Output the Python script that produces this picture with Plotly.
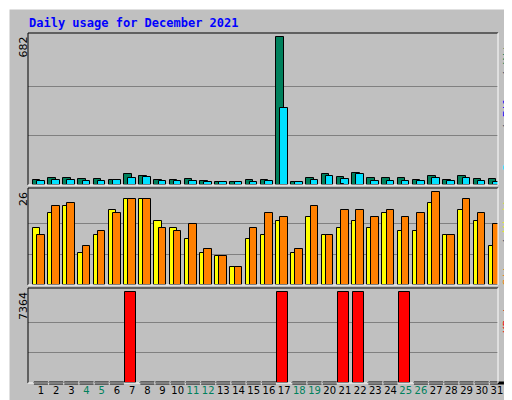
import plotly.graph_objects as go

days = list(range(1, 32))
weekend = [4, 5, 11, 12, 18, 19, 25, 26]

hits = [25, 34, 34, 29, 29, 25, 49, 43, 25, 25, 29, 20, 12, 12, 25, 25,
        682, 15, 34, 49, 39, 54, 34, 34, 34, 25, 43, 25, 43, 29, 29]
files = [20, 23, 23, 20, 20, 25, 34, 39, 20, 20, 20, 15, 12, 12, 15, 20,
         353, 15, 25, 43, 29, 49, 20, 20, 20, 20, 34, 20, 34, 20, 15]
pages = [None] * 20 + [5] + [None] * 10
sites = [16, 20, 22, 9, 14, 21, 24, 24, 18, 16, 13, 9, 8, 5, 13, 14,
         18, 9, 19, 14, 16, 18, 16, 20, 15, 15, 23, 14, 21, 18, 11]
visits = [14, 22, 23, 11, 15, 20, 24, 24, 16, 15, 17, 10, 8, 5, 16, 20,
          19, 10, 22, 14, 21, 21, 19, 21, 19, 20, 26, 14, 24, 20, 17]
kbytes = [0] * 31
for d in [7, 17, 21, 22, 25]:
    kbytes[d - 1] = 7364

W, H = 512, 400
X0, X1 = 20 / W, 490 / W


def yd(top, bottom):
    return [1 - bottom / H, 1 - top / H]


fig = go.Figure()
edge = dict(color="black", width=1)

fig.add_bar(x=days, y=hits, marker=dict(color="#00805c", line=edge),
            offset=-0.53, width=0.5, yaxis="y")
fig.add_bar(x=days, y=files, marker=dict(color="#00e0ff", line=edge),
            offset=-0.26, width=0.5, yaxis="y")
fig.add_bar(x=days, y=pages, marker=dict(color="#0000ff", line=edge),
            offset=-0.26, width=0.2, yaxis="y")
fig.add_bar(x=days, y=sites, marker=dict(color="#ffff00", line=edge),
            offset=-0.53, width=0.5, yaxis="y2", xaxis="x2")
fig.add_bar(x=days, y=visits, marker=dict(color="#ff8000", line=edge),
            offset=-0.26, width=0.5, yaxis="y2", xaxis="x2")
fig.add_bar(x=days, y=kbytes, marker=dict(color="#ff0000", line=edge),
            offset=-0.45, width=0.72, yaxis="y3", xaxis="x3")
# zero-kbyte days show as a flat dash
zero_days = [d for d, k in zip(days, kbytes) if k == 0]
fig.add_scatter(x=zero_days, y=[0] * len(zero_days), mode="markers",
                marker=dict(symbol="line-ew", size=10,
                            line=dict(color="black", width=3)),
                yaxis="y3", xaxis="x3", cliponaxis=False)

xr = [0.15, 31.07]
common_x = dict(range=xr, domain=[X0, X1], showgrid=False, zeroline=False,
                showline=False, fixedrange=True, automargin=False)
ticktext = ['<span style="color:#00805c">%d</span>' % d if d in weekend
            else str(d) for d in days]


def yaxis(mx, top, bottom, **kw):
    return dict(range=[0, mx * (bottom - top) / (bottom - top - 4)],
                domain=yd(top, bottom), tickvals=[mx / 3, 2 * mx / 3],
                showticklabels=False, ticks="", gridcolor="#808080",
                zeroline=False, showline=False, fixedrange=True,
                automargin=False, **kw)


fig.update_layout(
    width=W, height=H,
    margin=dict(l=0, r=0, t=0, b=0, pad=0, autoexpand=False),
    paper_bgcolor="#c0c0c0", plot_bgcolor="#c0c0c0",
    barmode="overlay", showlegend=False,
    bargap=0,
    xaxis=dict(common_x, anchor="y", showticklabels=False),
    xaxis2=dict(common_x, anchor="y2", showticklabels=False),
    xaxis3=dict(common_x, anchor="y3", tickvals=days, ticktext=ticktext,
                ticks="", tickangle=0,
                tickfont=dict(family="DejaVu Sans", size=10, color="black")),
    yaxis=yaxis(682, 25, 177, anchor="x"),
    yaxis2=yaxis(26, 180, 277, anchor="x2"),
    yaxis3=yaxis(7364, 280, 375, anchor="x3"),
    font=dict(family="DejaVu Sans Mono"),
)

# panel frames: dark left/top, white right/bottom
shapes = [
    dict(type="line", x0=0, y0=1, x1=1, y1=1, line=dict(color="white", width=3)),
    dict(type="line", x0=0, y0=0, x1=0, y1=1, line=dict(color="white", width=3)),
    dict(type="line", x0=1, y0=0, x1=1, y1=1, line=dict(color="#606060", width=6)),
    dict(type="line", x0=0, y0=0, x1=1, y1=0, line=dict(color="#606060", width=6)),
]
for top, bottom in [(25, 177), (180, 277), (280, 375)]:
    y0, y1 = yd(top, bottom)
    shapes += [
        dict(type="line", x0=X0, x1=X1, y0=y1, y1=y1,
             line=dict(color="black", width=1)),
        dict(type="line", x0=X0, x1=X0, y0=y0, y1=y1,
             line=dict(color="black", width=1)),
        dict(type="line", x0=X1, x1=X1, y0=y0, y1=y1,
             line=dict(color="white", width=1)),
        dict(type="line", x0=X0, x1=X1, y0=y0, y1=y0,
             line=dict(color="white", width=1)),
    ]
for s in shapes:
    s.update(xref="paper", yref="paper")
fig.update_layout(shapes=shapes)

ann = [
    dict(text="<b>Daily usage for December 2021</b>", x=19 / W, y=1 - 15 / H,
         xanchor="left", yanchor="middle",
         font=dict(color="#0000ff", size=12)),
]
for label, top in [("682", 27), ("26", 182), ("7364", 282)]:
    ann.append(dict(text=label, x=15 / W, y=1 - top / H, textangle=-90,
                    xanchor="center", yanchor="top",
                    font=dict(color="black", size=11, family="DejaVu Sans")))
right = [
    ('<span style="color:#00e0ff">Pages</span> / '
     '<span style="color:#0000ff">Files</span> / '
     '<span style="color:#00805c">Hits</span>', 25),
    ('<span style="color:#ff8000">Sites</span> / '
     '<span style="color:#ffff00">Visits</span>', 180),
    ('<span style="color:#ff0000">KBytes</span>', 280),
]
for text, top in right:
    ann.append(dict(text=text, x=499 / W, y=1 - (top + 3) / H, textangle=-90,
                    xanchor="center", yanchor="top", font=dict(size=11)))
for a in ann:
    a.update(xref="paper", yref="paper", showarrow=False)
fig.update_layout(annotations=ann)

fig.write_html("out.html")
